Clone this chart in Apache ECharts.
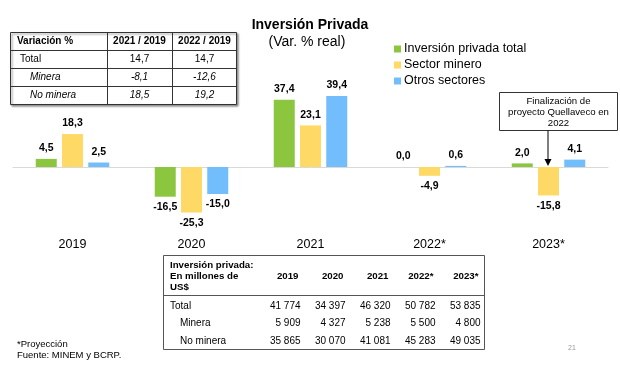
<!DOCTYPE html>
<html>
<head>
<meta charset="utf-8">
<script src="https://cdn.jsdelivr.net/npm/echarts@6/dist/echarts.min.js"></script>
<style>
html,body{margin:0;padding:0;background:#fff;}
#main{width:620px;height:368px;}
</style>
</head>
<body>
<div id="main"></div>
<script>
// ---- Chart data ----
const categories = ['2019', '2020', '2021', '2022*', '2023*'];
const seriesNames = ['Inversión privada total', 'Sector minero', 'Otros sectores'];
const totalVar = [4.5, -16.5, 37.4, 0.0, 2.0];
const mineroVar = [18.3, -25.3, 23.1, -4.9, -15.8];
const otrosVar = [2.5, -15.0, 39.4, 0.6, 4.1];

// ---- Top-left table: Variación % ----
const varHeader = ['Variación %', '2021 / 2019', '2022 / 2019'];
const varRows = ['Total', 'Minera', 'No minera'];
const var2021 = ['14,7', '-8,1', '18,5'];
const var2022 = ['14,7', '-12,6', '19,2'];

// ---- Bottom table: millones de US$ ----
const invHeader = ['Inversión privada:', 'En millones de', 'US$'];
const invYears = ['2019', '2020', '2021', '2022*', '2023*'];
const invRows = ['Total', 'Minera', 'No minera'];
const invTotal = [41774, 34397, 46320, 50782, 53835];
const invMinera = [5909, 4327, 5238, 5500, 4800];
const invNoMinera = [35865, 30070, 41081, 45283, 49035];

// ---- Texts ----
const titleText = 'Inversión Privada';
const subtitleText = '(Var. % real)';
const noteLines = ['*Proyección', 'Fuente: MINEM y BCRP.'];
const annotationLines = ['Finalización de', 'proyecto Quellaveco en', '2022'];
const pageNumber = '21';

const FONT = '"Liberation Sans", Arial, sans-serif';
const colors = ['#8CC63F', '#FFD966', '#72BEFC'];

function fmtPct(v) { return v.toFixed(1).replace('.', ','); }
function fmtThousands(v) { return String(v).replace(/\B(?=(\d{3})+(?!\d))/g, ' '); }
function toData(arr) {
  return arr.map(v => ({ value: v, label: { position: v < 0 ? 'bottom' : 'top' } }));
}

const chart = echarts.init(document.getElementById('main'), null, { renderer: 'canvas' });

const graphics = [];
function txt(x, y, s, opt) {
  graphics.push({
    type: 'text', x: x, y: y, silent: true,
    style: Object.assign({
      text: s, fill: '#000', font: '10px ' + FONT,
      textAlign: 'left', textVerticalAlign: 'middle'
    }, opt || {})
  });
}
function line(x1, y1, x2, y2, color, w) {
  graphics.push({ type: 'line', silent: true, shape: { x1: x1, y1: y1, x2: x2, y2: y2 },
    style: { stroke: color || '#333', lineWidth: w || 1 } });
}

// Title
txt(310, 25, titleText, { font: 'bold 14px ' + FONT, textAlign: 'center' });
txt(307, 42, subtitleText, { font: '14px ' + FONT, textAlign: 'center' });

// Top-left table
graphics.push({ type: 'rect', silent: true, shape: { x: 10.5, y: 32.5, width: 226, height: 72 },
  style: { fill: '#fff', stroke: '#333', lineWidth: 1, shadowBlur: 2, shadowOffsetX: 1.5, shadowOffsetY: 1.5, shadowColor: 'rgba(0,0,0,0.45)' } });
line(10.5, 50.5, 236.5, 50.5, '#333', 1.2);
line(10.5, 68.5, 236.5, 68.5, '#333', 1);
line(10.5, 86.5, 236.5, 86.5, '#333', 1);
line(107.5, 32.5, 107.5, 104.5, '#333', 1);
line(172.5, 32.5, 172.5, 104.5, '#333', 1);
txt(17, 41.5, varHeader[0], { font: 'bold 10px ' + FONT });
txt(139.5, 41.5, varHeader[1], { font: 'bold 10px ' + FONT, textAlign: 'center' });
txt(204.5, 41.5, varHeader[2], { font: 'bold 10px ' + FONT, textAlign: 'center' });
varRows.forEach((r, i) => {
  const y = 59.5 + i * 18;
  const italic = i > 0 ? 'italic ' : '';
  txt(i > 0 ? 30 : 20, y, r, { font: italic + '10px ' + FONT });
  txt(139.5, y, var2021[i], { font: italic + '10px ' + FONT, textAlign: 'center' });
  txt(204.5, y, var2022[i], { font: italic + '10px ' + FONT, textAlign: 'center' });
});

// Bottom table
graphics.push({ type: 'rect', silent: true, shape: { x: 163.5, y: 255.5, width: 321, height: 94 },
  style: { fill: 'none', stroke: '#555', lineWidth: 1 } });
line(163.5, 295.5, 484.5, 295.5, '#555', 1);
invHeader.forEach((h, i) => txt(170, 265.5 + i * 11, h, { font: 'bold 9.7px ' + FONT }));
const colRight = [300.5, 345.5, 390.5, 435.5, 480.5];
invYears.forEach((y, i) => txt(colRight[i] - 2, 276.5, y, { font: 'bold 9.7px ' + FONT, textAlign: 'right' }));
const invData = [invTotal, invMinera, invNoMinera];
invRows.forEach((r, ri) => {
  const y = 306 + ri * 17.5;
  txt(ri > 0 ? 180 : 170, y, r, { font: '10px ' + FONT });
  invData[ri].forEach((v, ci) => txt(colRight[ci], y, fmtThousands(v), { font: '10px ' + FONT, textAlign: 'right' }));
});

// Annotation box + arrow
graphics.push({ type: 'rect', silent: true, shape: { x: 499.5, y: 92.5, width: 118, height: 38 },
  style: { fill: '#fff', stroke: '#333', lineWidth: 1 } });
annotationLines.forEach((s, i) => txt(558.5, 101.5 + i * 11, s, { font: '9.6px ' + FONT, textAlign: 'center' }));
line(548, 130.5, 548, 160, '#000', 1);
graphics.push({ type: 'polygon', silent: true, shape: { points: [[544.5, 159], [551.5, 159], [548, 166]] },
  style: { fill: '#000' } });

// Notes
noteLines.forEach((s, i) => txt(17, 344.5 + i * 10.5, s, { font: '9.5px ' + FONT }));
txt(572, 348, pageNumber, { font: '7px ' + FONT, fill: '#999', textAlign: 'center' });

const option = {
  animation: false,
  backgroundColor: '#fff',
  color: colors,
  textStyle: { fontFamily: FONT },
  legend: {
    orient: 'vertical', left: 389, top: 37.5,
    icon: 'rect', itemWidth: 7, itemHeight: 7, itemGap: 3,
    textStyle: { fontSize: 12.5, color: '#000', fontFamily: FONT, padding: [0, 0, 0, -2] },
    data: seriesNames
  },
  grid: { left: 13, right: 12, top: 86, bottom: 147 },
  xAxis: {
    type: 'category', data: categories,
    axisLine: { onZero: true, lineStyle: { color: '#D9D9D9', width: 1 } },
    axisTick: { show: false },
    axisLabel: { margin: 17, fontSize: 12.5, color: '#000', fontFamily: FONT }
  },
  yAxis: {
    type: 'value', min: -30, max: 45, interval: 15, show: false,
    splitLine: { show: false }
  },
  series: [totalVar, mineroVar, otrosVar].map((arr, i) => ({
    name: seriesNames[i], type: 'bar', data: toData(arr),
    barWidth: 21, barGap: '25%',
    label: { show: true, distance: 5, fontSize: 10.5, fontWeight: 'bold', color: '#000', fontFamily: FONT,
      formatter: p => fmtPct(p.value) }
  })),
  graphic: graphics
};
chart.setOption(option);
</script>
</body>
</html>
